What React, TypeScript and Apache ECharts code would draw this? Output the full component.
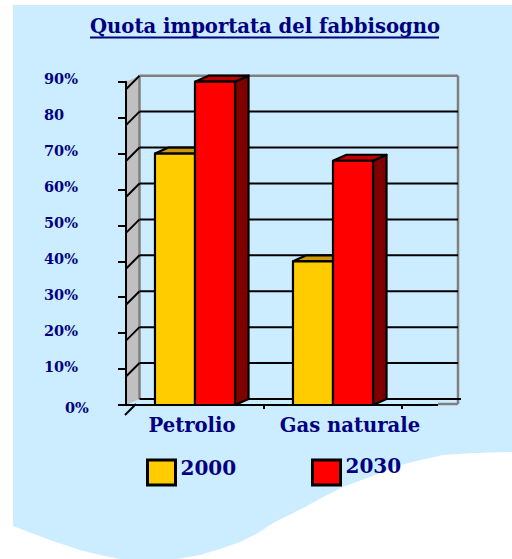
import React, { useEffect, useRef } from "react";
import * as echarts from "echarts";

const categories = ["Petrolio", "Gas naturale"];
const values2000 = [70, 40];
const values2030 = [90, 68];
const tickValues = [0, 10, 20, 30, 40, 50, 60, 70, 80, 90];
const tickLabels: Record<number, string> = { 0: "0%", 10: "10%", 20: "20%", 30: "30%", 40: "40%", 50: "50%", 60: "60%", 70: "70%", 80: "80", 90: "90%" };
const title = "Quota importata del fabbisogno";

const NAVY = "#000080";
const FONT = "DejaVu Serif";
const DX = 13.5;
const DY = 6;

const backdrop: number[][] = [
  [13, 5], [512, 5], [512, 452], [490, 452.5], [465, 453.5], [443, 455], [425, 459], [400, 465], [375, 475],
  [343, 487], [325, 496], [305, 507], [273, 523], [258, 533], [240, 542], [220, 549], [200, 555],
  [177, 559], [120, 559], [100, 555], [80, 550], [50, 540], [13, 526],
];

const wallItem = (params: any, api: any) => {
  const cs = params.coordSys;
  const left = cs.x;
  const backL = left + DX;
  const backR = left + cs.width + 56;
  const v = api.value(1);
  const y = api.coord([0, v])[1];
  const yTop = api.coord([0, 90])[1];
  const yZero = api.coord([0, 0])[1];
  const black = { stroke: "#000", lineWidth: 2, fill: "none" };
  const grey = { stroke: "#808080", lineWidth: 2.5, fill: "none" };
  const children: any[] = [];
  if (params.dataIndex === 0) {
    children.push({
      type: "polygon",
      shape: { points: [[left, yZero], [backL, yZero - DY], [backL, yTop - DY], [left, yTop]] },
      style: { fill: "#C0C0C0", stroke: "none" },
    });
    children.push({ type: "line", shape: { x1: backL, y1: yTop - DY, x2: backL, y2: yZero - DY }, style: grey });
    children.push({ type: "line", shape: { x1: backR, y1: yTop - DY, x2: backR, y2: yZero - 1 }, style: grey });
    children.push({ type: "line", shape: { x1: backL, y1: yTop - DY, x2: backR, y2: yTop - DY }, style: grey });
    children.push({ type: "line", shape: { x1: left + cs.width + 36, y1: yZero - 1, x2: backR, y2: yZero - 1 }, style: grey });
    children.push({ type: "line", shape: { x1: left + cs.width - 2, y1: yZero, x2: left + cs.width + 36, y2: yZero }, style: black });
    children.push({ type: "line", shape: { x1: left - 1, y1: yZero + 10, x2: left + 10, y2: yZero - 1 }, style: black });
    children.push({ type: "line", shape: { x1: backL, y1: yZero - DY, x2: backR + 3, y2: yZero - DY }, style: black });
    const band = api.size([1, 0])[0];
    children.push({ type: "line", shape: { x1: left + band, y1: yZero, x2: left + band, y2: yZero + 4 }, style: black });
    children.push({ type: "line", shape: { x1: left + 2 * band, y1: yZero, x2: left + 2 * band, y2: yZero + 4 }, style: black });
  } else {
    children.push({ type: "line", shape: { x1: left + 0.5, y1: y + 7, x2: backL, y2: y - DY }, style: black });
    if (v !== 90) {
      children.push({ type: "line", shape: { x1: backL, y1: y - DY, x2: backR, y2: y - DY }, style: black });
    }
  }
  return { type: "group", children };
};

const barItem = (offsetSign: number, front: string, top: string, side: string) => (params: any, api: any) => {
  const p = api.coord([api.value(0), api.value(1)]);
  const base = api.coord([api.value(0), 0]);
  const band = api.size([1, 0])[0];
  const w = band * 0.29;
  const x0 = offsetSign < 0 ? p[0] - w : p[0];
  const x1 = x0 + w;
  const yT = p[1];
  const yB = base[1];
  const line = { stroke: "#000", lineWidth: 2.2, lineJoin: "round" };
  return {
    type: "group",
    children: [
      { type: "polygon", shape: { points: [[x1, yB], [x1 + DX, yB - DY], [x1 + DX, yT - DY], [x1, yT]] }, style: { fill: side, ...line } },
      { type: "polygon", shape: { points: [[x0, yT], [x0 + DX, yT - DY], [x1 + DX, yT - DY], [x1, yT]] }, style: { fill: top, ...line } },
      { type: "rect", shape: { x: x0, y: yT, width: w, height: yB - yT }, style: { fill: front, ...line } },
    ],
  };
};

const legendText = (bottomPad: number) => ({
  fontFamily: FONT,
  fontSize: 20,
  fontWeight: "bold",
  color: NAVY,
  rich: { t: { fontFamily: FONT, fontSize: 20, fontWeight: "bold", color: NAVY, padding: [0, 0, bottomPad, 0] } },
});

const legendCommon = {
  orient: "horizontal" as const,
  icon: "rect",
  itemWidth: 28,
  itemHeight: 25,
  itemGap: 0,
  selectedMode: false,
  padding: 0,
  formatter: "{t|{name}}",
};

export default function App() {
  const ref = useRef<HTMLDivElement>(null);
  useEffect(() => {
    const chart = echarts.init(ref.current!, undefined, { renderer: "svg" });
    chart.setOption({
      animation: false,
      backgroundColor: "#fff",
      title: {
        text: title,
        left: 90,
        top: 16,
        padding: 0,
        textStyle: { fontFamily: FONT, fontSize: 19.6, fontWeight: "bold", color: NAVY },
      },
      graphic: [
        { type: "polygon", z: -10, shape: { points: backdrop }, style: { fill: "#CCECFF" } },
        { type: "line", z: 10, shape: { x1: 90, y1: 37.5, x2: 439, y2: 37.5 }, style: { stroke: NAVY, lineWidth: 2 } },
      ],
      legend: [
        { ...legendCommon, data: ["2000"], left: 146, top: 457.5, itemStyle: { borderColor: "#000", borderWidth: 3 }, textStyle: legendText(10) },
        { ...legendCommon, data: ["2030"], left: 311, top: 455.5, itemStyle: { borderColor: "#000", borderWidth: 3 }, textStyle: legendText(14) },
      ],
      grid: { left: 126, top: 81.7, width: 276, height: 323.3 },
      xAxis: {
        type: "category",
        data: [
          { value: categories[0], textStyle: { padding: [0, 6, 0, 0] } },
          { value: categories[1], textStyle: { padding: [0, 0, 0, 34] } },
        ],
        z: 2,
        axisLine: { lineStyle: { color: "#000", width: 2 } },
        axisTick: { show: false },
        axisLabel: { fontFamily: FONT, fontSize: 19.6, fontWeight: "bold", color: NAVY, margin: 10, interval: 0 },
      },
      yAxis: {
        type: "value",
        min: 0,
        max: 90,
        interval: 10,
        z: 2,
        splitLine: { show: false },
        axisLine: { show: true, lineStyle: { color: "#000", width: 2 } },
        axisTick: { show: true, length: 8, lineStyle: { color: "#000", width: 2 } },
        axisLabel: {
          fontFamily: FONT,
          fontSize: 14.5,
          fontWeight: "bold",
          color: NAVY,
          align: "left",
          margin: 82,
          formatter: (v: number) => (v === 0 ? `{z|${tickLabels[v]}}` : `{n|${tickLabels[v]}}`),
          rich: {
            n: { fontFamily: FONT, fontSize: 14.5, fontWeight: "bold", color: NAVY, padding: [0, 0, 6, 0] },
            z: { fontFamily: FONT, fontSize: 14.5, fontWeight: "bold", color: NAVY, padding: [4, 0, 0, 21] },
          },
        },
      },
      series: [
        {
          type: "custom",
          name: "wall",
          z: 1,
          clip: false,
          silent: true,
          renderItem: wallItem,
          data: tickValues.map((v) => [0, v]),
          encode: { x: 0, y: 1 },
        },
        {
          type: "custom",
          name: "2000",
          z: 3,
          clip: false,
          color: "#FFCC00",
          itemStyle: { color: "#FFCC00", borderColor: "#000", borderWidth: 3 },
          renderItem: barItem(-1, "#FFCC00", "#CC9900", "#806600"),
          data: values2000.map((v, i) => [i, v]),
          encode: { x: 0, y: 1 },
        },
        {
          type: "custom",
          name: "2030",
          z: 4,
          clip: false,
          color: "#FF0000",
          itemStyle: { color: "#FF0000", borderColor: "#000", borderWidth: 3 },
          renderItem: barItem(1, "#FF0000", "#C00000", "#800000"),
          data: values2030.map((v, i) => [i, v]),
          encode: { x: 0, y: 1 },
        },
      ],
    });
    return () => chart.dispose();
  }, []);
  return <div ref={ref} style={{ position: "absolute", left: 0, top: 0, width: 512, height: 559 }} />;
}
